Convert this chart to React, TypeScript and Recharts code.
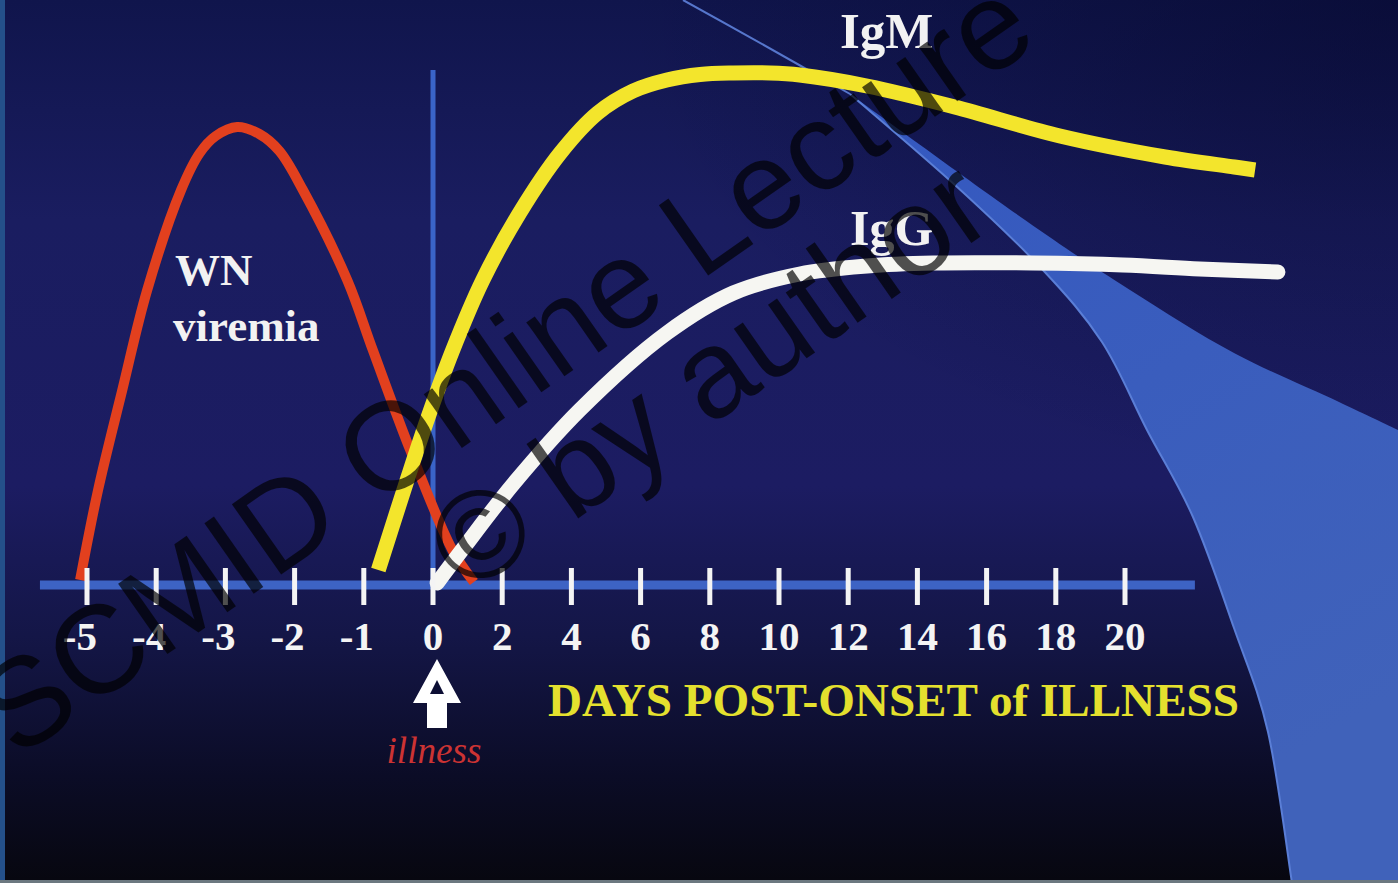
import React from "react";
import { ComposedChart, Line, XAxis, YAxis, ReferenceLine } from "recharts";

const W = 1398;
const H = 883;

// axis slots are evenly spaced; the labels jump from 1-day to 2-day steps after 0
const dayLabels = ["-5", "-4", "-3", "-2", "-1", "0", "2", "4", "6", "8", "10", "12", "14", "16", "18", "20"];
const slots = dayLabels.map((_, i) => i);
const ONSET_SLOT = 5;

// WN viremia (red)
const viremiaSlot = [-0.1, 0.16, 0.51, 0.87, 1.36, 1.63, 1.86, 2.17, 2.49, 2.78, 3.12, 3.76, 4.13, 4.67, 5.28, 5.59];
const viremiaLevel = [1, 19, 39, 59, 79, 86.4, 89.8, 91.6, 90.2, 86.8, 79, 61, 47, 27, 7, 0.6];

// IgM (yellow)
const igmSlot = [4.21, 4.64, 4.93, 5.28, 5.72, 6.26, 6.84, 7.38, 7.89, 8.38, 8.86, 9.34, 9.87, 10.3, 11.27, 12.54, 14.06, 15.58, 16.58, 16.88];
const igmLevel = [3, 21.6, 33.6, 46.8, 61, 74.6, 86.4, 94.4, 98.8, 101, 102.1, 102.4, 102.4, 102, 99.8, 95.6, 89.8, 85.6, 83.6, 83];

// IgG (white)
const iggSlot = [5.06, 5.43, 6.16, 7.12, 8.38, 9.34, 10.3, 11.27, 12.23, 13.67, 14.97, 16.08, 17.21];
const iggLevel = [0.4, 7.2, 20.2, 35, 50.4, 58.4, 62.2, 63.8, 64.4, 64.4, 64, 63.2, 62.6];

const zip = (xs: number[], vs: number[]) => xs.map((x, i) => ({ x, v: vs[i] }));
const viremiaData = zip(viremiaSlot, viremiaLevel);
const igmData = zip(igmSlot, igmLevel);
const iggData = zip(iggSlot, iggLevel);

// view window in slot units (first tick sits 87px in, 69.2px per slot)
const X_MIN = -87 / 69.2;
const X_MAX = (W - 87) / 69.2;
const AXIS_FROM = -0.68;
const AXIS_TO = 16.01;
const ONSET_LINE_TOP = 103;

const SERIF = "'Liberation Serif', 'Times New Roman', serif";

// centripetal Catmull-Rom, handed to <Line type> as a d3-style curve factory
function smoothCurve(context: any) {
  let pts: number[][] = [];
  const dist = (a: number[], b: number[]) => Math.hypot(b[0] - a[0], b[1] - a[1]);
  return {
    areaStart() {},
    areaEnd() {},
    lineStart() {
      pts = [];
    },
    point(x: number, y: number) {
      pts.push([+x, +y]);
    },
    lineEnd() {
      const n = pts.length;
      if (!n) return;
      context.moveTo(pts[0][0], pts[0][1]);
      for (let i = 0; i < n - 1; i++) {
        const p0 = pts[i - 1] || pts[i];
        const p1 = pts[i];
        const p2 = pts[i + 1];
        const p3 = pts[i + 2] || p2;
        const l01 = Math.sqrt(dist(p0, p1));
        const l12 = Math.sqrt(dist(p1, p2));
        const l23 = Math.sqrt(dist(p2, p3));
        let c1 = [p1[0], p1[1]];
        let c2 = [p2[0], p2[1]];
        if (l01 > 1e-6) {
          const a = 2 * l01 * l01 + 3 * l01 * l12 + l12 * l12;
          const m = 3 * l01 * (l01 + l12);
          c1 = [0, 1].map((k) => (p1[k] * a - p0[k] * l12 * l12 + p2[k] * l01 * l01) / m);
        }
        if (l23 > 1e-6) {
          const b = 2 * l23 * l23 + 3 * l23 * l12 + l12 * l12;
          const m = 3 * l23 * (l23 + l12);
          c2 = [0, 1].map((k) => (p2[k] * b + p1[k] * l23 * l23 - p3[k] * l12 * l12) / m);
        }
        context.bezierCurveTo(c1[0], c1[1], c2[0], c2[1], p2[0], p2[1]);
      }
    },
  };
}

function DayTick(props: any) {
  const { x, y, payload, index } = props;
  const label = dayLabels[payload.value] ?? "";
  const neg = label.startsWith("-");
  return (
    <g>
      <rect x={x - 2.5} y={y - 17} width={5} height={37} fill="#f4f4f4" />
      <text
        x={neg ? x + 10 : x}
        y={y + 65}
        textAnchor={neg ? "end" : "middle"}
        fontFamily={SERIF}
        fontWeight="bold"
        fontSize={41}
        fill="#f4f4f4"
      >
        {label}
      </text>
      {index === ONSET_SLOT && (
        <g>
          <polygon
            points={`${x + 4},${y + 74} ${x + 28},${y + 118} ${x + 14},${y + 118} ${x + 14},${y + 143} ${x - 6},${y + 143} ${x - 6},${y + 118} ${x - 20},${y + 118}`}
            fill="#ffffff"
          />
          <polygon
            points={`${x + 4},${y + 95} ${x - 3},${y + 109} ${x + 11},${y + 109}`}
            fill="#0c0e34"
          />
          <text
            x={x + 1}
            y={y + 178}
            textAnchor="middle"
            fontFamily={SERIF}
            fontStyle="italic"
            fontSize={38}
            textLength={95}
            lengthAdjust="spacingAndGlyphs"
            fill="#cc3333"
          >
            illness
          </text>
        </g>
      )}
    </g>
  );
}

function curveSegs(pts: number[][]) {
  let d = "";
  for (let i = 0; i < pts.length - 1; i++) {
    const p0 = pts[i - 1] || pts[i];
    const p1 = pts[i];
    const p2 = pts[i + 1];
    const p3 = pts[i + 2] || p2;
    const c1 = [p1[0] + (p2[0] - p0[0]) / 6, p1[1] + (p2[1] - p0[1]) / 6];
    const c2 = [p2[0] - (p3[0] - p1[0]) / 6, p2[1] - (p3[1] - p1[1]) / 6];
    d += ` C${c1} ${c2} ${p2}`;
  }
  return d;
}

const swooshLeft = [[850, 94], [955, 185], [1042, 269], [1102, 342], [1147, 430], [1193, 517], [1234, 628], [1268, 732], [1292, 883]];
const swooshRight = [[1398, 430], [1339, 402], [1234, 353], [1130, 290], [1025, 220], [850, 94]];

function Backdrop() {
  const band = `M850,94${curveSegs(swooshLeft)} L1398,883 L1398,430${curveSegs(swooshRight)} Z`;
  const edge = `M850,94${curveSegs(swooshLeft)}`;
  return (
    <svg width={W} height={H} style={{ position: "absolute", left: 0, top: 0 }}>
      <defs>
        <linearGradient id="bg" x1="0" y1="0" x2="0" y2="1">
          <stop offset="0" stopColor="#10154c" />
          <stop offset="0.25" stopColor="#1a1d60" />
          <stop offset="0.55" stopColor="#1c1c62" />
          <stop offset="0.72" stopColor="#141647" />
          <stop offset="0.88" stopColor="#0b0c26" />
          <stop offset="1" stopColor="#07070f" />
        </linearGradient>
        <radialGradient id="corner" cx="1" cy="0" r="0.55">
          <stop offset="0" stopColor="#05072a" stopOpacity="0.55" />
          <stop offset="1" stopColor="#05072a" stopOpacity="0" />
        </radialGradient>
        <linearGradient id="bandFill" x1="0" y1="0" x2="0.4" y2="1">
          <stop offset="0" stopColor="#3458c0" />
          <stop offset="1" stopColor="#4062ba" />
        </linearGradient>
      </defs>
      <rect width={W} height={H} fill="url(#bg)" />
      <rect width={W} height={H} fill="url(#corner)" />
      <path d="M683,0 Q770,48 850,94" stroke="#5676cc" strokeWidth={2} fill="none" />
      <path d={band} fill="url(#bandFill)" />
      <path d={edge} stroke="#5a7ed6" strokeWidth={2} fill="none" />
      <rect x={0} y={0} width={5} height={H} fill="#24508a" />
      <rect x={0} y={880} width={W} height={3} fill="#6c7880" />
      <g fontFamily={SERIF} fontWeight="bold" fill="#f2f2f2">
        <text x={840} y={48} fontSize={51}>IgM</text>
        <text x={850} y={245} fontSize={50}>IgG</text>
        <text x={175} y={285} fontSize={45}>WN</text>
        <text x={173} y={341} fontSize={45}>viremia</text>
      </g>
      <text
        x={548}
        y={716}
        fontFamily={SERIF}
        fontWeight="bold"
        fontSize={47}
        textLength={691}
        lengthAdjust="spacingAndGlyphs"
        fill="#e4e02e"
      >
        DAYS POST-ONSET of ILLNESS
      </text>
    </svg>
  );
}

function Watermark() {
  return (
    <svg width={W} height={H} style={{ position: "absolute", left: 0, top: 0, pointerEvents: "none" }}>
      <g fill="#000000" fillOpacity={0.68} fontFamily="'Liberation Sans', Arial, sans-serif" fontSize={125}>
        <text x={529} y={401} textAnchor="middle" transform="rotate(-35 529 401)">
          SCMID Online Lecture
        </text>
        <text x={733} y={410} textAnchor="middle" transform="rotate(-35 733 410)">
          © by author
        </text>
      </g>
    </svg>
  );
}

export default function App() {
  return (
    <div style={{ position: "absolute", left: 0, top: 0, width: W, height: H, overflow: "hidden" }}>
      <Backdrop />
      <div style={{ position: "absolute", left: 0, top: 0 }}>
        <ComposedChart width={W} height={H} margin={{ top: 0, right: 0, bottom: 238, left: 0 }}>
          <ReferenceLine
            segment={[{ x: AXIS_FROM, y: 0 }, { x: AXIS_TO, y: 0 }]}
            stroke="#3d63c4"
            strokeWidth={9}
            ifOverflow="visible"
          />
          <ReferenceLine
            segment={[{ x: ONSET_SLOT, y: 0 }, { x: ONSET_SLOT, y: ONSET_LINE_TOP }]}
            stroke="#3a64c8"
            strokeWidth={5}
            ifOverflow="visible"
          />
          <XAxis
            dataKey="x"
            type="number"
            domain={[X_MIN, X_MAX]}
            ticks={slots}
            interval={0}
            axisLine={false}
            tickLine={false}
            tickSize={0}
            tickMargin={0}
            height={60}
            tick={<DayTick />}
          />
          <YAxis type="number" domain={[0, 117]} hide />
          <Line
            data={viremiaData}
            dataKey="v"
            type={smoothCurve as any}
            stroke="#e2401e"
            strokeWidth={10}
            dot={false}
            activeDot={false}
            isAnimationActive={false}
          />
          <Line
            data={igmData}
            dataKey="v"
            type={smoothCurve as any}
            stroke="#f3e52c"
            strokeWidth={15}
            dot={false}
            activeDot={false}
            isAnimationActive={false}
          />
          <Line
            data={iggData}
            dataKey="v"
            type={smoothCurve as any}
            stroke="#f6f6f2"
            strokeWidth={15}
            strokeLinecap="round"
            dot={false}
            activeDot={false}
            isAnimationActive={false}
          />
        </ComposedChart>
      </div>
      <Watermark />
    </div>
  );
}
